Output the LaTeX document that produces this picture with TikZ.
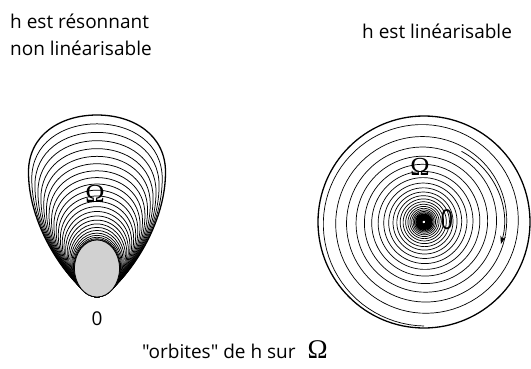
\documentclass[tikz,border=0pt]{standalone}
\usepackage{fontspec}
\setmainfont{Open Sans}[Ligatures=TeXOff]
\newfontfamily\omegafont{Liberation Serif}
\usepackage{tikz}
\usetikzlibrary{arrows.meta, positioning}

\begin{document}
\begin{tikzpicture}[
  x=1pt, y=1pt,
  orbit/.style={draw=black, line width=0.75pt},
  bord/.style={draw=black, line width=1.3pt},
  flow/.style={-{Stealth[length=8pt, width=5.5pt]}, line width=0.75pt},
  lbl/.style={font=\fontsize{19}{27}\selectfont, align=left, inner sep=0pt},
  sym/.style={font=\omegafont\fontsize{26}{26}\selectfont, inner sep=0pt}
]
  \useasboundingbox (0,0) rectangle (531,368);

  % titres
  \node[lbl, anchor=base west] (titleL) at (10,313) {h est résonnant\\non linéarisable};
  \node[lbl, anchor=base west] (titleR) at (362,330) {h est linéarisable};
  \node[lbl, anchor=base west] (caption) at (142,10) {"orbites" de h sur\hspace{12pt}{\omegafont\fontsize{27}{27}\selectfont Ω}};

  % cas resonnant : orbites tangentes en 0
  \coordinate (tip) at (97,71);
  \foreach \k in {1,...,25}{
    \pgfmathsetmacro\u{(\k/25)^1.8}
    \pgfmathsetmacro\bx{12.4+2.6*\u}
    \pgfmathsetmacro\w{22.5+46*\u}
    \pgfmathsetmacro\hc{12.8+47.2*\u}
    \pgfmathsetmacro\hs{28.5+96.5*\u}
    \pgfmathsetmacro\hu{44.2+118*\u}
    \pgfmathsetmacro\tx{12.4+24*\u}
    \pgfmathsetmacro\ht{57+125*\u}
    \draw[orbit, shift={(tip)}, line width={\k==25 ? 1.3pt : 0.75pt}]
      (0,0) .. controls (-\bx,0) and (-\w,\hc) .. (-\w,\hs)
      .. controls (-\w,\hu) and (-\tx,\ht) .. (0,\ht)
      .. controls (\tx,\ht) and (\w,\hu) .. (\w,\hs)
      .. controls (\w,\hc) and (\bx,0) .. (0,0);
  }
  \filldraw[fill=black!18, draw=black, line width=0.75pt, shift={(tip)}]
    (0,0) .. controls (-12.4,0) and (-22.5,12.8) .. (-22.5,28.5)
    .. controls (-22.5,44.2) and (-12.4,57) .. (0,57)
    .. controls (12.4,57) and (22.5,44.2) .. (22.5,28.5)
    .. controls (22.5,12.8) and (12.4,0) .. (0,0);
  \node[sym] (omegaL) at (95,174) {Ω};
  \node[lbl, anchor=center] (zeroL) at (97,49) {0};

  % cas linearisable : spirale vers 0
  \coordinate (c) at (424,146);
  \draw[orbit, shift={(c)}, line width=0.7pt]
    plot[domain=0:11520, samples=2800] ({270-\x}:{104*1.14^(-\x/360)});
  \draw[bord] (c) circle[radius=106];
  \draw[flow] ([shift={(62:80)}]c) arc[start angle=62, end angle=-16, radius=80];
  \node[sym] (omegaR) at (420,201) {Ω};
  \node[lbl, font=\fontsize{22}{22}\selectfont, yscale=1.25] (zeroR) at (447,148) {0};
\end{tikzpicture}
\end{document}
